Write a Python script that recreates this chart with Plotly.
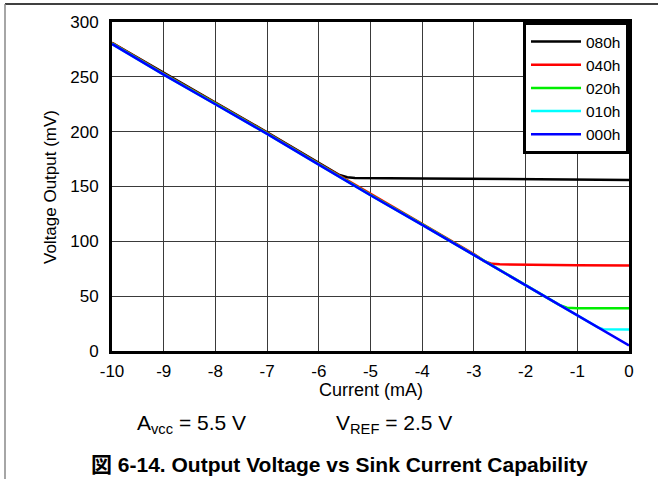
import plotly.graph_objects as go

# ---- data ----
series_names = ["080h", "040h", "020h", "010h", "000h"]
series_colors = ["#000000", "#ff0000", "#00ee00", "#00ffff", "#0000ff"]

i_080h = [-10, -9, -8, -7, -6, -5.6, -5.45, -5.3, -4, -3, -2, -1, 0]
v_080h = [281, 253.5, 226.5, 199.5, 171.5, 160.5, 158.5, 157.8, 157.3, 157, 156.7, 156.4, 156]

i_040h = [-10, -9, -8, -7, -6, -5, -4, -3, -2.8, -2.65, -2.5, -2, -1, 0]
v_040h = [281, 253, 226, 199, 171, 143.5, 116, 88.5, 82, 79.5, 79, 78.6, 78.3, 78]

i_020h = [-10, -9, -8, -7, -6, -5, -4, -3, -2, -1.35, -1.2, -1.0, 0]
v_020h = [280.5, 252.5, 225.5, 198.5, 170.5, 142.5, 115.5, 87.5, 60, 42, 39.5, 39, 39]

i_010h = [-10, -9, -8, -7, -6, -5, -4, -3, -2, -1, -0.6, -0.5, 0]
v_010h = [280, 252, 225, 198, 170, 142, 115, 87.5, 60, 32.5, 21.5, 19.8, 19.5]

i_000h = [-10, -9, -8, -7, -6, -5, -4, -3, -2, -1, 0]
v_000h = [280, 252, 225, 198, 170, 142, 115, 87.5, 59.5, 32.5, 5]

x_ticks = [-10, -9, -8, -7, -6, -5, -4, -3, -2, -1, 0]
y_ticks = [0, 50, 100, 150, 200, 250, 300]

FONT = "Liberation Sans, Arial, Noto Sans CJK JP, sans-serif"

fig = go.Figure()
for name, color, xs, ys in zip(series_names, series_colors,
                               [i_080h, i_040h, i_020h, i_010h, i_000h],
                               [v_080h, v_040h, v_020h, v_010h, v_000h]):
    fig.add_trace(go.Scatter(x=xs, y=ys, mode="lines", name=name,
                             line=dict(color=color, width=2.5)))

W, H = 658, 479
ml, mr, mt, mb = 112, 29, 22, 128
pw = W - ml - mr
ph = H - mt - mb

def px(x):
    return (x - ml) / pw

def py(y):
    return (H - mb - y) / ph

fig.update_layout(
    width=W, height=H,
    margin=dict(l=ml, r=mr, t=mt, b=mb, autoexpand=False),
    paper_bgcolor="white", plot_bgcolor="white",
    font=dict(family=FONT, size=17, color="black"),
    showlegend=True,
    legend=dict(x=1, y=1, xanchor="right", yanchor="top",
                bgcolor="white", bordercolor="black", borderwidth=3,
                font=dict(size=15.5), itemwidth=50,
                tracegroupgap=0),
    xaxis=dict(range=[-10, 0], tickvals=x_ticks, ticktext=[str(v) for v in x_ticks],
               showgrid=True, gridcolor="#3a3a3a", gridwidth=1,
               showline=True, linecolor="black", linewidth=3, mirror=True,
               zeroline=False, ticks="", ticklabelstandoff=3,
               tickfont=dict(size=17)),
    yaxis=dict(range=[0, 300], tickvals=y_ticks,
               showgrid=True, gridcolor="#3a3a3a", gridwidth=1,
               showline=True, linecolor="black", linewidth=3, mirror=True,
               zeroline=False, ticks="", ticklabelstandoff=7,
               tickfont=dict(size=17)),
    annotations=[
        dict(text="Voltage Output (mV)", xref="paper", yref="paper",
             x=px(50), y=py(187), textangle=-90, showarrow=False,
             font=dict(size=17), xanchor="center", yanchor="middle"),
        dict(text="Current (mA)", xref="paper", yref="paper",
             x=px(371), y=py(390), showarrow=False,
             font=dict(size=18), xanchor="center", yanchor="middle"),
        dict(text="A<sub>vcc</sub> = 5.5 V", xref="paper", yref="paper",
             x=px(135), y=py(424), showarrow=False,
             font=dict(size=21), xanchor="left", yanchor="middle"),
        dict(text="V<sub>REF</sub> = 2.5 V", xref="paper", yref="paper",
             x=px(334), y=py(424), showarrow=False,
             font=dict(size=21), xanchor="left", yanchor="middle"),
        dict(text="<b>図 6-14. Output Voltage vs Sink Current Capability</b>",
             xref="paper", yref="paper",
             x=px(339), y=py(464), showarrow=False,
             font=dict(size=21), xanchor="center", yanchor="middle"),
    ],
    shapes=[
        dict(type="line", xref="paper", yref="paper",
             x0=px(5), x1=px(658), y0=py(4), y1=py(4),
             line=dict(color="black", width=1.5)),
        dict(type="line", xref="paper", yref="paper",
             x0=px(5), x1=px(5), y0=py(4), y1=py(479),
             line=dict(color="#888888", width=1.5)),
    ],
)

fig.write_html("out.html", config={"displayModeBar": False},
               post_script="document.body.style.margin='0px';")
